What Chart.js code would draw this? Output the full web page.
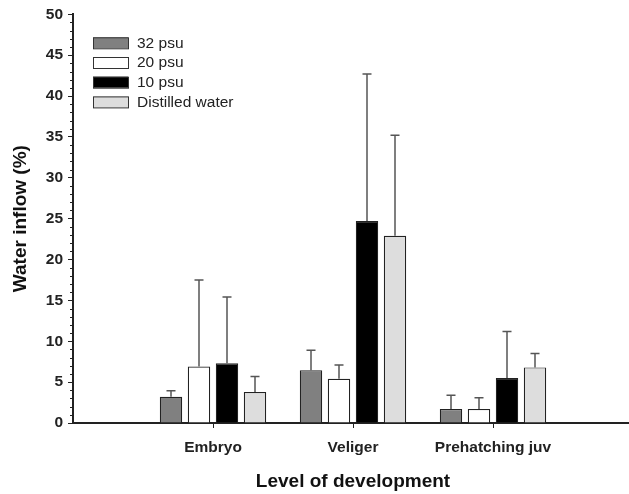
<!DOCTYPE html>
<html>
<head>
<meta charset="utf-8">
<script src="https://cdn.jsdelivr.net/npm/chart.js@4/dist/chart.umd.min.js"></script>
<style>
html,body{margin:0;padding:0;background:#fff;overflow:hidden;}
#wrap{width:633px;height:494px;position:relative;}
</style>
</head>
<body>
<div id="wrap"><canvas id="inflowChart"></canvas></div>
<script>
/* ---- data ---- */
// empty slots at both ends leave room on the x axis like the original
const stages = ["", "Embryo", "Veliger", "Prehatching juv", ""];

const psu32 = [null, 3.2, 6.45, 1.7, null];
const psu32Sd = [null, 0.75, 2.45, 1.7, null];

const psu20 = [null, 6.9, 5.4, 1.7, null];
const psu20Sd = [null, 10.6, 1.7, 1.4, null];

const psu10 = [null, 7.3, 24.7, 5.5, null];
const psu10Sd = [null, 8.1, 18.0, 5.7, null];

const distilled = [null, 3.8, 22.9, 6.8, null];
const distilledSd = [null, 1.9, 12.3, 1.7, null];

const yTicks = [0, 5, 10, 15, 20, 25, 30, 35, 40, 45, 50];

const FONT = "'Liberation Sans', Arial, sans-serif";

/* upward error bars */
const errorBars = {
  id: "errorBars",
  afterDatasetsDraw(chart) {
    const ctx = chart.ctx;
    const y = chart.scales.y;
    ctx.save();
    ctx.strokeStyle = "#555";
    ctx.lineWidth = 1.5;
    chart.data.datasets.forEach((ds, i) => {
      const meta = chart.getDatasetMeta(i);
      meta.data.forEach((bar, j) => {
        const v = ds.data[j];
        const sd = ds.sd[j];
        if (v == null || sd == null) return;
        const top = y.getPixelForValue(v + sd);
        ctx.beginPath();
        ctx.moveTo(bar.x, bar.y);
        ctx.lineTo(bar.x, top);
        ctx.moveTo(bar.x - 4.5, top);
        ctx.lineTo(bar.x + 4.5, top);
        ctx.stroke();
      });
    });
    ctx.restore();
  }
};

/* minor ticks on y axis */
const minorTicks = {
  id: "minorTicks",
  afterDraw(chart) {
    const ctx = chart.ctx;
    const y = chart.scales.y;
    const x0 = chart.chartArea.left;
    ctx.save();
    ctx.strokeStyle = "#222";
    ctx.lineWidth = 1;
    for (let v = 0; v <= 50; v++) {
      if (v % 5 === 0) continue;
      const py = Math.round(y.getPixelForValue(v)) + 0.5;
      ctx.beginPath();
      ctx.moveTo(x0 - 3, py);
      ctx.lineTo(x0, py);
      ctx.stroke();
    }
    ctx.restore();
  }
};

/* legend inside the plot, top left */
const insideLegend = {
  id: "insideLegend",
  afterDraw(chart) {
    const ctx = chart.ctx;
    const left = chart.chartArea.left + 20;
    let top = chart.chartArea.top + 23;
    ctx.save();
    ctx.font = "15.5px " + FONT;
    ctx.textBaseline = "middle";
    chart.data.datasets.forEach(ds => {
      ctx.fillStyle = ds.backgroundColor;
      ctx.fillRect(left, top, 35, 11);
      ctx.strokeStyle = "#333";
      ctx.lineWidth = 1;
      ctx.strokeRect(left + 0.5, top + 0.5, 35, 11);
      ctx.fillStyle = "#222";
      ctx.fillText(ds.label, left + 44, top + 6);
      top += 19.7;
    });
    ctx.restore();
  }
};

const makeSet = (label, data, sd, color) => ({
  label: label,
  data: data,
  sd: sd,
  backgroundColor: color,
  borderColor: "#222",
  borderWidth: 1.2,
  categoryPercentage: 0.8,
  barPercentage: 0.8
});

new Chart(document.getElementById("inflowChart"), {
  type: "bar",
  data: {
    labels: stages,
    datasets: [
      makeSet("32 psu", psu32, psu32Sd, "#808080"),
      makeSet("20 psu", psu20, psu20Sd, "#ffffff"),
      makeSet("10 psu", psu10, psu10Sd, "#000000"),
      makeSet("Distilled water", distilled, distilledSd, "#dddddd")
    ]
  },
  options: {
    responsive: true,
    maintainAspectRatio: false,
    animation: false,
    layout: { padding: { top: 14, right: 0, left: 0, bottom: 0 } },
    plugins: {
      legend: { display: false },
      tooltip: { enabled: false }
    },
    scales: {
      x: {
        offset: false,
        grid: {
          offset: false,
          drawOnChartArea: false,
          tickLength: 15,
          // only the first 4px of each tick is drawn
          tickBorderDash: [4, 40],
          tickColor: c => (c.index === 0 || c.index === stages.length - 1) ? "rgba(0,0,0,0)" : "#222"
        },
        border: { color: "#222", width: 2 },
        ticks: {
          color: "#222",
          font: { family: FONT, size: 15.5, weight: "bold" },
          padding: 0,
          maxRotation: 0,
          autoSkip: false
        },
        title: {
          display: true,
          text: "Level of development",
          color: "#111",
          font: { family: FONT, size: 19, weight: "bold" },
          padding: { top: 0, bottom: 1 }
        },
        afterFit: s => { s.height = 71; }
      },
      y: {
        min: 0,
        max: 50,
        afterBuildTicks: s => { s.ticks = yTicks.map(v => ({ value: v })); },
        grid: {
          drawOnChartArea: false,
          tickLength: 5,
          tickColor: "#222"
        },
        border: { color: "#222", width: 2 },
        ticks: {
          color: "#222",
          font: { family: FONT, size: 15.5, weight: "bold" },
          padding: 5
        },
        title: {
          display: true,
          text: "Water inflow (%)",
          color: "#111",
          font: { family: FONT, size: 19, weight: "bold" },
          padding: { top: 9, bottom: 0 }
        },
        afterFit: s => { s.width = 73; }
      }
    }
  },
  plugins: [errorBars, minorTicks, insideLegend]
});
</script>
</body>
</html>
